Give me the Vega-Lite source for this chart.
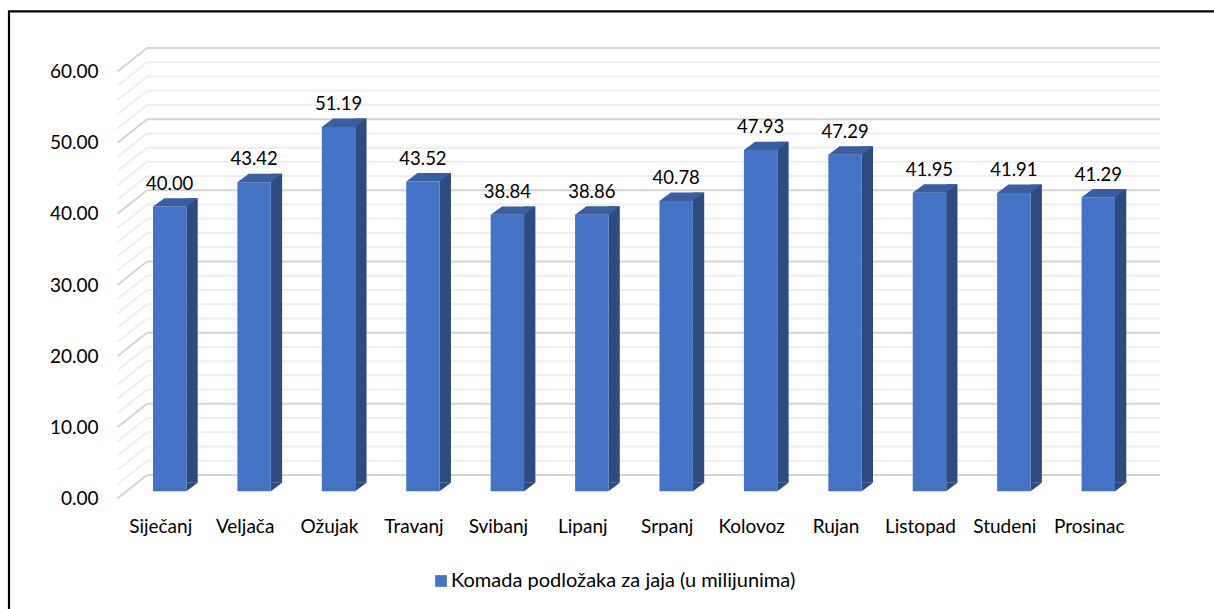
{
  "$schema": "https://vega.github.io/schema/vega-lite/v6.json",
  "width": 1013,
  "height": 427,
  "autosize": {"type": "none"},
  "padding": {"left": 147, "top": 48, "right": 54, "bottom": 134},
  "background": "white",
  "config": {
    "view": {"stroke": null},
    "font": "Lato",
    "text": {"font": "Lato"}
  },
  "datasets": {
    "months": [
      {"month": "Siječanj", "value": 40.00, "series": "Komada podložaka za jaja (u milijunima)"},
      {"month": "Veljača", "value": 43.42, "series": "Komada podložaka za jaja (u milijunima)"},
      {"month": "Ožujak", "value": 51.19, "series": "Komada podložaka za jaja (u milijunima)"},
      {"month": "Travanj", "value": 43.52, "series": "Komada podložaka za jaja (u milijunima)"},
      {"month": "Svibanj", "value": 38.84, "series": "Komada podložaka za jaja (u milijunima)"},
      {"month": "Lipanj", "value": 38.86, "series": "Komada podložaka za jaja (u milijunima)"},
      {"month": "Srpanj", "value": 40.78, "series": "Komada podložaka za jaja (u milijunima)"},
      {"month": "Kolovoz", "value": 47.93, "series": "Komada podložaka za jaja (u milijunima)"},
      {"month": "Rujan", "value": 47.29, "series": "Komada podložaka za jaja (u milijunima)"},
      {"month": "Listopad", "value": 41.95, "series": "Komada podložaka za jaja (u milijunima)"},
      {"month": "Studeni", "value": 41.91, "series": "Komada podložaka za jaja (u milijunima)"},
      {"month": "Prosinac", "value": 41.29, "series": "Komada podložaka za jaja (u milijunima)"}
    ],
    "majorGrid": [
      {"g": 0}, {"g": 10}, {"g": 20}, {"g": 30}, {"g": 40}, {"g": 50}, {"g": 60}
    ],
    "minorGrid": [
      {"g": 2}, {"g": 4}, {"g": 6}, {"g": 8},
      {"g": 12}, {"g": 14}, {"g": 16}, {"g": 18},
      {"g": 22}, {"g": 24}, {"g": 26}, {"g": 28},
      {"g": 32}, {"g": 34}, {"g": 36}, {"g": 38},
      {"g": 42}, {"g": 44}, {"g": 46}, {"g": 48},
      {"g": 52}, {"g": 54}, {"g": 56}, {"g": 58}
    ]
  },
  "layer": [
    {
      "data": {"name": "minorGrid"},
      "mark": {"type": "rule", "clip": false, "color": "#eeeeee", "strokeWidth": 2},
      "encoding": {
        "y": {"field": "g", "type": "quantitative", "scale": {"domain": [0, 60], "nice": false, "zero": true},
              "axis": {
                "values": [0, 10, 20, 30, 40, 50, 60],
                "format": ".2f",
                "title": null,
                "domain": false,
                "ticks": false,
                "tickSize": 0,
                "grid": false,
                "labelOverlap": false,
                "labelPadding": 49,
                "labelOffset": 23.5,
                "labelFont": "Lato",
                "labelFontSize": 19,
                "labelColor": "#000000",
                "labelBaseline": "middle"
              }}
      }
    },
    {
      "data": {"name": "minorGrid"},
      "mark": {"type": "rule", "clip": false, "y2Offset": 23.5, "color": "#eeeeee", "strokeWidth": 2},
      "encoding": {
        "x": {"value": 0},
        "x2": {"value": -29.5},
        "y": {"field": "g", "type": "quantitative"},
        "y2": {"field": "g"}
      }
    },
    {
      "data": {"name": "majorGrid"},
      "mark": {"type": "rule", "clip": false, "color": "#d4d4d4", "strokeWidth": 2},
      "encoding": {
        "y": {"field": "g", "type": "quantitative"}
      }
    },
    {
      "data": {"name": "majorGrid"},
      "mark": {"type": "rule", "clip": false, "y2Offset": 23.5, "color": "#d4d4d4", "strokeWidth": 2},
      "encoding": {
        "x": {"value": 0},
        "x2": {"value": -29.5},
        "y": {"field": "g", "type": "quantitative"},
        "y2": {"field": "g"}
      }
    },
    {
      "data": {"name": "months"},
      "mark": {"type": "bar", "width": 11.3, "xOffset": 2.85, "yOffset": 7.8, "y2Offset": 7.8, "color": "#2E4B80"},
      "encoding": {
        "x": {"field": "month", "type": "nominal", "sort": null,
              "scale": {"paddingInner": 0, "paddingOuter": 0},
              "axis": {
                "title": null, "domain": false, "ticks": false, "tickSize": 0, "grid": false,
                "labelAngle": 0, "labelOffset": -28.5, "labelPadding": 51,
                "labelBaseline": "middle",
                "labelFont": "Lato", "labelFontSize": 19, "labelColor": "#000000"
              }},
        "y": {"field": "value", "type": "quantitative"}
      }
    },
    {
      "data": {"name": "months"},
      "mark": {"type": "point", "filled": true, "opacity": 1, "size": 4, "strokeWidth": 0,
               "shape": "M-2.8,7.8 L8.5,7.8 L-2.8,16.2 Z", "color": "#2E4B80"},
      "encoding": {
        "x": {"field": "month", "type": "nominal", "sort": null},
        "y": {"datum": 0, "type": "quantitative"}
      }
    },
    {
      "data": {"name": "months"},
      "mark": {"type": "bar", "width": 33.4, "xOffset": -19.5, "yOffset": 16.2, "y2Offset": 16.2},
      "encoding": {
        "x": {"field": "month", "type": "nominal", "sort": null},
        "y": {"field": "value", "type": "quantitative"},
        "color": {"field": "series", "type": "nominal",
                  "scale": {"range": ["#4472C4"]},
                  "legend": {
                    "title": null, "orient": "none", "legendX": 284, "legendY": 523,
                    "padding": 0, "symbolType": "square", "symbolSize": 137,
                    "symbolStrokeWidth": 0, "labelFont": "Lato", "labelFontSize": 20,
                    "labelColor": "#000000", "labelOffset": 0, "labelLimit": 600
                  }}
      }
    },
    {
      "data": {"name": "months"},
      "mark": {"type": "point", "filled": true, "opacity": 1, "size": 4, "strokeWidth": 0,
               "shape": "M-36.2,16.2 L-2.8,16.2 L8.5,7.8 L-24.9,7.8 Z", "color": "#3A5EA0"},
      "encoding": {
        "x": {"field": "month", "type": "nominal", "sort": null},
        "y": {"field": "value", "type": "quantitative"}
      }
    },
    {
      "data": {"name": "months"},
      "mark": {"type": "text", "xOffset": -19.5, "yOffset": -6.5, "font": "Lato", "fontSize": 18.5, "color": "#000000", "baseline": "middle"},
      "encoding": {
        "x": {"field": "month", "type": "nominal", "sort": null},
        "y": {"field": "value", "type": "quantitative"},
        "text": {"field": "value", "type": "quantitative", "format": ".2f"}
      }
    },
    {
      "data": {"values": [{}]},
      "mark": {"type": "rect", "fill": null, "stroke": "#000000", "strokeWidth": 2.2, "clip": false},
      "encoding": {
        "x": {"value": -138},
        "x2": {"value": 1090},
        "y": {"value": -36.7},
        "y2": {"value": 600}
      }
    }
  ]
}
